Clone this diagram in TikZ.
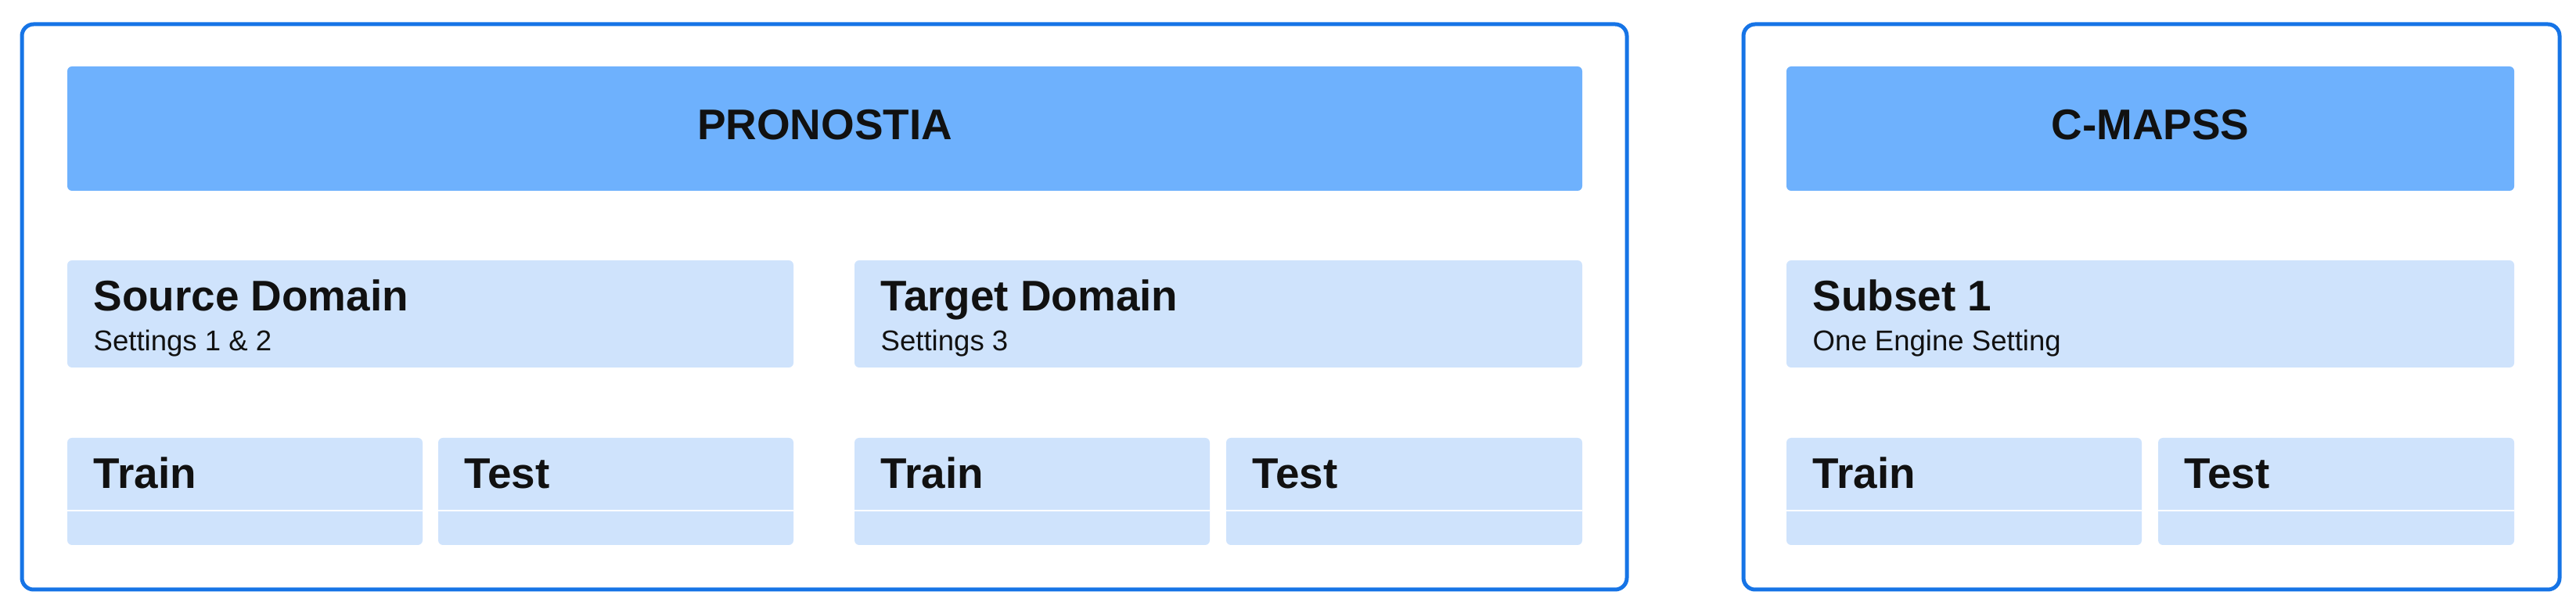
\documentclass[tikz,border=0pt]{standalone}
\usepackage{fontspec}
\setmainfont{Liberation Sans}
\usepackage{xcolor}
\usetikzlibrary{positioning, calc}
\definecolor{frameblue}{RGB}{22, 116, 230}
\definecolor{headerblue}{RGB}{110, 177, 253}
\definecolor{cellblue}{RGB}{207, 227, 252}
\definecolor{inkblack}{RGB}{17, 17, 17}
\tikzstyle{panel} = [rectangle, rounded corners=0.15cm, draw=frameblue, line width=0.05cm, inner sep=0pt, outer sep=0pt]
\tikzstyle{header} = [rectangle, rounded corners=0.06cm, fill=headerblue, minimum height=1.59cm, inner sep=0pt, outer sep=0pt, text height=0.39cm, text depth=0.1cm, font=\bfseries\fontsize{15.6}{18}\selectfont, text=inkblack]
\tikzstyle{cell} = [rectangle, rounded corners=0.06cm, fill=cellblue, minimum height=1.37cm, inner sep=0pt, outer sep=0pt]
\tikzstyle{celltitle} = [anchor=base west, inner sep=0pt, font=\bfseries\fontsize{15.6}{18}\selectfont, text=inkblack]
\tikzstyle{cellnote} = [anchor=base west, inner sep=0pt, font=\fontsize{10.4}{12}\selectfont, text=inkblack]
\tikzstyle{divider} = [draw=white, line width=0.025cm]

\begin{document}
\begin{tikzpicture}[node distance=0.9cm]
      \useasboundingbox (0,0) rectangle (32.92,-7.75);

      \node[panel, minimum width=20.51cm, minimum height=7.23cm, anchor=north west] (pronostiabox) at (0.28,-0.31) {};
      \node[header, minimum width=19.36cm, anchor=north west] (pronostia) at ($(pronostiabox.north west)+(0.58,-0.54)$) {PRONOSTIA};
      \node[cell, minimum width=9.28cm, below=0.89cm of pronostia.south west, anchor=north west] (source) {};
      \node[cell, minimum width=9.30cm, right=0.78cm of source] (target) {};
      \node[cell, minimum width=4.54cm, below=of source.south west, anchor=north west] (trainsrc) {};
      \node[cell, minimum width=4.54cm, right=0.2cm of trainsrc] (testsrc) {};
      \node[cell, minimum width=4.54cm, below=of target.south west, anchor=north west] (traintgt) {};
      \node[cell, minimum width=4.55cm, right=0.21cm of traintgt] (testtgt) {};

      \node[panel, minimum width=10.43cm, minimum height=7.23cm, anchor=north west] (cmapssbox) at (22.28,-0.31) {};
      \node[header, minimum width=9.30cm, anchor=north west] (cmapss) at ($(cmapssbox.north west)+(0.55,-0.54)$) {C-MAPSS};
      \node[cell, minimum width=9.30cm, below=0.89cm of cmapss.south west, anchor=north west] (subset) {};
      \node[cell, minimum width=4.54cm, below=of subset.south west, anchor=north west] (trainsub) {};
      \node[cell, minimum width=4.55cm, right=0.21cm of trainsub] (testsub) {};

      \draw[divider] ($(trainsrc.north west)+(0,-0.93)$) -- ($(trainsrc.north east)+(0,-0.93)$);
      \draw[divider] ($(testsrc.north west)+(0,-0.93)$) -- ($(testsrc.north east)+(0,-0.93)$);
      \draw[divider] ($(traintgt.north west)+(0,-0.93)$) -- ($(traintgt.north east)+(0,-0.93)$);
      \draw[divider] ($(testtgt.north west)+(0,-0.93)$) -- ($(testtgt.north east)+(0,-0.93)$);
      \draw[divider] ($(trainsub.north west)+(0,-0.93)$) -- ($(trainsub.north east)+(0,-0.93)$);
      \draw[divider] ($(testsub.north west)+(0,-0.93)$) -- ($(testsub.north east)+(0,-0.93)$);

      \node[celltitle] (sourcetitle) at ($(source.north west)+(0.33,-0.65)$) {Source Domain};
      \node[cellnote] (sourcenote) at ($(source.north west)+(0.33,-1.16)$) {Settings 1 \& 2};
      \node[celltitle] (targettitle) at ($(target.north west)+(0.33,-0.65)$) {Target Domain};
      \node[cellnote] (targetnote) at ($(target.north west)+(0.33,-1.16)$) {Settings 3};
      \node[celltitle] (subsettitle) at ($(subset.north west)+(0.33,-0.65)$) {Subset 1};
      \node[cellnote] (subsetnote) at ($(subset.north west)+(0.33,-1.16)$) {One Engine Setting};

      \node[celltitle] (trainsrctext) at ($(trainsrc.north west)+(0.33,-0.65)$) {Train};
      \node[celltitle] (testsrctext) at ($(testsrc.north west)+(0.33,-0.65)$) {Test};
      \node[celltitle] (traintgttext) at ($(traintgt.north west)+(0.33,-0.65)$) {Train};
      \node[celltitle] (testtgttext) at ($(testtgt.north west)+(0.33,-0.65)$) {Test};
      \node[celltitle] (trainsubtext) at ($(trainsub.north west)+(0.33,-0.65)$) {Train};
      \node[celltitle] (testsubtext) at ($(testsub.north west)+(0.33,-0.65)$) {Test};
    \end{tikzpicture}
\end{document}
